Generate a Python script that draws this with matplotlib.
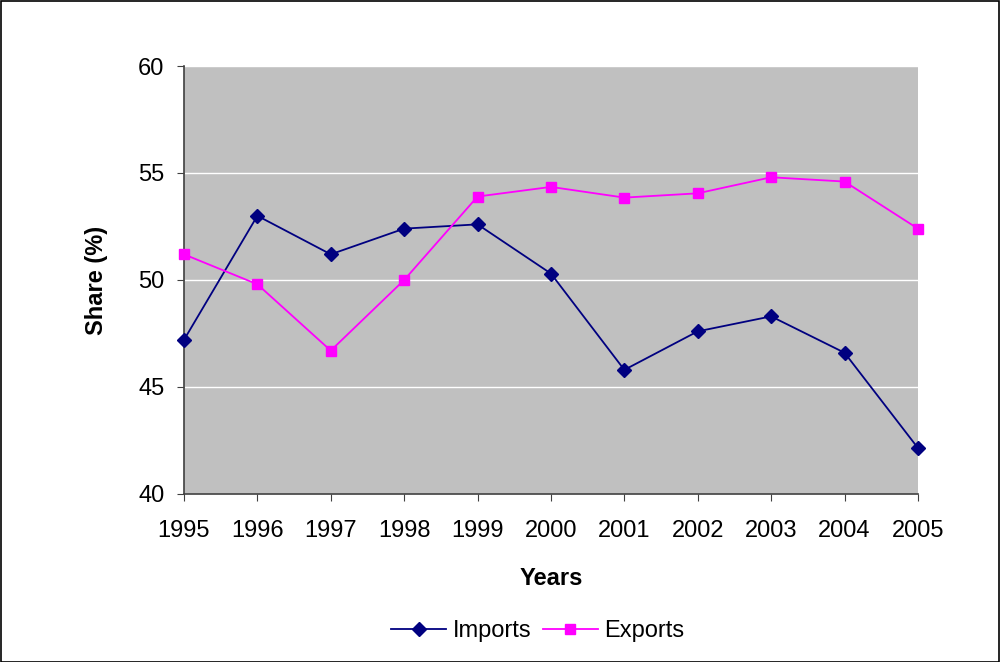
import matplotlib.pyplot as plt
from matplotlib.patches import Rectangle

plt.rcParams["font.family"] = ["Liberation Sans", "DejaVu Sans"]

years = ["1995", "1996", "1997", "1998", "1999", "2000",
         "2001", "2002", "2003", "2004", "2005"]
imports = [47.2, 53.0, 51.2, 52.4, 52.6, 50.3, 45.8, 47.6, 48.3, 46.6, 42.15]
exports = [51.2, 49.8, 46.7, 50.0, 53.9, 54.35, 53.85, 54.05, 54.8, 54.6, 52.4]

fig = plt.figure(figsize=(10.02, 6.62), dpi=100)
ax = fig.add_axes([0.1836, 0.2538, 0.7325, 0.6465])
ax.set_facecolor("#c0c0c0")

x = range(len(years))
ax.plot(x, imports, color="#000080", marker="D", markersize=7.5, linewidth=1.3,
        label="Imports", zorder=3, clip_on=False)
ax.plot(x, exports, color="#ff00ff", marker="s", markersize=7.5, linewidth=1.3,
        label="Exports", zorder=3, clip_on=False)

ax.set_xlim(0, len(years) - 1)
ax.set_ylim(40, 60)
ax.set_yticks([40, 45, 50, 55, 60])
ax.set_xticks(list(x))
ax.set_xticklabels(years)
ax.yaxis.grid(True, color="white", linewidth=1)
ax.set_axisbelow(True)

for s in ["top", "right"]:
    ax.spines[s].set_color("#404040")
    ax.spines[s].set_visible(False)
for s in ["left", "bottom"]:
    ax.spines[s].set_color("#404040")
    ax.spines[s].set_linewidth(1.2)
ax.tick_params(axis="both", labelsize=17, length=5, color="#404040")
ax.tick_params(axis="x", pad=14)
ax.tick_params(axis="y", pad=9)

ax.set_ylabel("Share (%)", fontsize=17, fontweight="bold", labelpad=22)
ax.set_xlabel("Years", fontsize=17, fontweight="bold", labelpad=18)

fig.legend(loc="center", bbox_to_anchor=(0.537, 0.047), ncol=2, frameon=False,
           fontsize=17, handlelength=2.3, columnspacing=0.5, handletextpad=0.3)

fig.patches.append(Rectangle((0.001, 0.0), 0.996, 0.998, transform=fig.transFigure,
                             fill=False, edgecolor="black", linewidth=1.2))

fig.savefig("out.png", dpi=100)
